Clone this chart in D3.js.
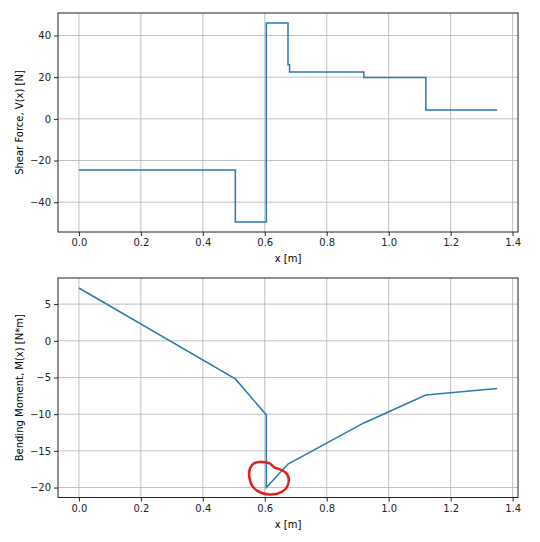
<!DOCTYPE html>
<html><head><meta charset="utf-8">
<script src="https://cdn.jsdelivr.net/npm/d3@7"></script>
<style>body{margin:0;background:#fff}text{font-family:"DejaVu Sans",sans-serif}</style>
</head><body><svg id="canvas" width="540" height="542"></svg>
<script>
// shear force steps
const shearX = [0, 0.505, 0.505, 0.605, 0.605, 0.675, 0.675, 0.68, 0.68, 0.92, 0.92, 1.12, 1.12, 1.35];
const shearV = [-24.5, -24.5, -49.5, -49.5, 46, 46, 26, 26, 22.5, 22.5, 19.8, 19.8, 4.2, 4.2];
// bending moment
const momentX = [0, 0.505, 0.605, 0.605, 0.675, 0.92, 1.12, 1.35];
const momentM = [7.2, -5.2, -10.1, -20, -16.8, -11.2, -7.4, -6.5];
const xTicks = [0, 0.2, 0.4, 0.6, 0.8, 1.0, 1.2, 1.4];
const shearTicks = [-40, -20, 0, 20, 40];
const momentTicks = [-20, -15, -10, -5, 0, 5];

const svg = d3.select("#canvas");
const left = 58, right = 518;

const drawPanel = (xs, ys, yDomain, yTicks, top, bottom, ylabel) => {
  const x = d3.scaleLinear().domain([-0.0675, 1.4175]).range([left, right]);
  const y = d3.scaleLinear().domain(yDomain).range([bottom, top]);
  const g = svg.append("g");
  // grid
  g.selectAll(".gx").data(xTicks).enter().append("line")
    .attr("x1", d => x(d)).attr("x2", d => x(d)).attr("y1", top).attr("y2", bottom)
    .attr("stroke", "#b0b0b0").attr("stroke-width", 0.8);
  g.selectAll(".gy").data(yTicks).enter().append("line")
    .attr("y1", d => y(d)).attr("y2", d => y(d)).attr("x1", left).attr("x2", right)
    .attr("stroke", "#b0b0b0").attr("stroke-width", 0.8);
  const line = d3.line().x(d => x(d[0])).y(d => y(d[1]));
  g.append("path").datum(xs.map((v, i) => [v, ys[i]]))
    .attr("d", line).attr("fill", "none").attr("stroke", "#2a7aae").attr("stroke-width", 1.5);
  g.append("rect").attr("x", left).attr("y", top).attr("width", right - left).attr("height", bottom - top)
    .attr("fill", "none").attr("stroke", "#222").attr("stroke-width", 1);
  const ax = g.append("g").attr("transform", `translate(0,${bottom})`)
    .call(d3.axisBottom(x).tickValues(xTicks).tickFormat(d3.format(".1f")).tickSizeOuter(0).tickSize(4));
  const ay = g.append("g").attr("transform", `translate(${left},0)`)
    .call(d3.axisLeft(y).tickValues(yTicks).tickFormat(d => d < 0 ? "\u2212" + (-d) : d).tickSizeOuter(0).tickSize(4));
  [ax, ay].forEach(a => {
    a.select(".domain").remove();
    a.selectAll("text").attr("font-size", 10).attr("fill", "#222").attr("font-family", "DejaVu Sans");
    a.selectAll("line").attr("stroke", "#222");
  });
  g.append("text").attr("x", (left + right) / 2).attr("y", bottom + 30).attr("text-anchor", "middle")
    .attr("font-size", 10).text("x [m]");
  g.append("text").attr("transform", `translate(23,${(top + bottom) / 2}) rotate(-90)`)
    .attr("text-anchor", "middle").attr("font-size", 10).text(ylabel);
  return { x, y };
};

drawPanel(shearX, shearV, [-54.3, 50.8], shearTicks, 13, 232, "Shear Force, V(x) [N]");
const m = drawPanel(momentX, momentM, [-21.36, 8.56], momentTicks, 278, 497.5, "Bending Moment, M(x) [N*m]");

// hand-drawn red loop around the moment minimum
const cx = m.x(0.605), cy = m.y(-20);
svg.append("path")
  .attr("d", `M${cx + 4},${cy - 24} C${cx - 14},${cy - 30} ${cx - 20},${cy - 20} ${cx - 16},${cy - 6}
    C${cx - 12},${cy + 10} ${cx + 18},${cy + 12} ${cx + 22},${cy - 4} C${cx + 25},${cy - 16} ${cx + 14},${cy - 18} ${cx + 8},${cy - 20}
    L${cx + 4},${cy - 24}`)
  .attr("fill", "none").attr("stroke", "#e0201b").attr("stroke-width", 2.5);
</script></body></html>
